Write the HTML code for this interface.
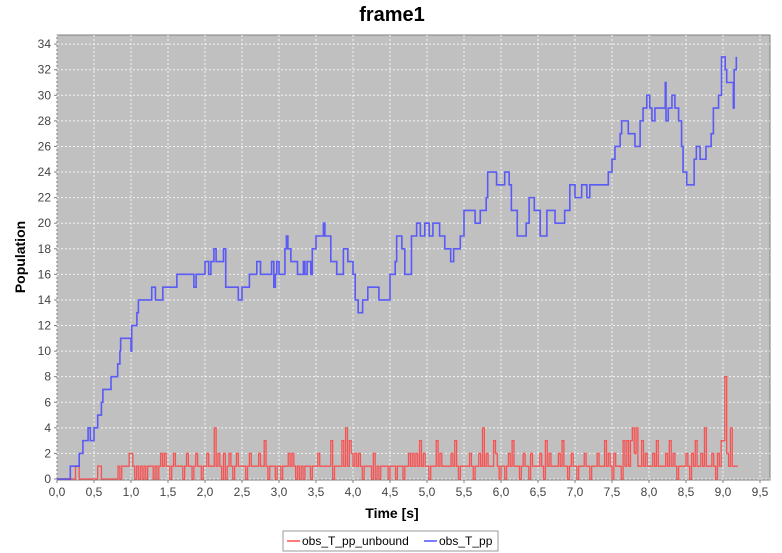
<!DOCTYPE html>
<html><head><meta charset="utf-8"><style>
body{margin:0;background:#fff;font-family:"Liberation Sans",sans-serif;}
svg{display:block}
</style></head><body>
<svg id="chart" width="782" height="553">
<text x="392" y="21" font-size="20" font-weight="bold" text-anchor="middle">frame1</text>
<rect x="57" y="35" width="713" height="445" fill="#c0c0c0" stroke="#808080"/>
<g id="grid"></g>
<g id="axes"></g>
<g id="series"></g>
<text x="392" y="518" font-size="14" font-weight="bold" text-anchor="middle">Time [s]</text>
<text transform="translate(25,257) rotate(-90)" font-size="14" font-weight="bold" text-anchor="middle">Population</text>
<g>
<rect x="283" y="531" width="215" height="20" fill="#fff" stroke="#999"/>
<g><line x1="287" y1="541" x2="300" y2="541" stroke="#ff5050" stroke-width="1.5"/><text x="302" y="545" font-size="12">obs_T_pp_unbound</text></g>
<g><line x1="424" y1="541" x2="437" y2="541" stroke="#5050ff" stroke-width="1.5"/><text x="439" y="545" font-size="12">obs_T_pp</text></g>
</g>
</svg>
<script>
const xTicks=[0,0.5,1,1.5,2,2.5,3,3.5,4,4.5,5,5.5,6,6.5,7,7.5,8,8.5,9,9.5];
const yTicks=[0,2,4,6,8,10,12,14,16,18,20,22,24,26,28,30,32,34];
const blueTimes=[0,0.18,0.3,0.35,0.42,0.45,0.5,0.55,0.6,0.62,0.73,0.82,0.85,0.86,1.0,1.01,1.08,1.1,1.28,1.33,1.43,1.62,1.85,1.88,2.0,2.05,2.08,2.12,2.15,2.25,2.28,2.45,2.5,2.6,2.7,2.75,2.9,2.93,2.95,2.97,3.0,3.08,3.1,3.12,3.16,3.25,3.33,3.35,3.38,3.43,3.45,3.5,3.6,3.62,3.7,3.78,3.87,3.93,4.0,4.03,4.07,4.13,4.2,4.35,4.5,4.57,4.59,4.66,4.70,4.79,4.86,4.91,4.97,5.03,5.08,5.17,5.24,5.32,5.36,5.45,5.50,5.65,5.72,5.80,5.82,5.94,6.05,6.11,6.14,6.22,6.34,6.38,6.45,6.53,6.62,6.73,6.75,6.86,6.93,7.0,7.09,7.16,7.20,7.29,7.45,7.50,7.54,7.61,7.63,7.72,7.81,7.88,7.92,7.97,8.01,8.04,8.08,8.22,8.23,8.26,8.31,8.35,8.40,8.44,8.46,8.51,8.61,8.64,8.69,8.77,8.84,8.87,8.94,8.98,9.03,9.05,9.14,9.15,9.18];
const blueValues=[0,1,2,3,4,3,4,5,6,7,8,9,10,11,10,12,13,14,15,14,15,16,15,16,17,16,17,18,17,18,15,14,15,16,17,16,17,15,16,17,16,18,19,18,17,16,17,16,17,16,18,19,20,19,17,16,18,17,16,14,13,14,15,14,16,17,19,18,16,19,20,19,20,19,20,19,18,17,18,19,21,20,21,22,24,23,24,23,21,19,20,22,21,19,21,20,20,21,23,22,23,22,23,23,24,25,26,27,28,27,26,28,29,30,29,28,29,31,28,29,30,29,28,26,24,23,25,26,25,26,27,29,30,33,32,31,29,32,33];
const redStep=0.025;
const redDigits="0000000000110000000000110000000001011112"+"2101010101110101212110121111012110121101"+"1211141210201210121111012111121131011101"+"1011121210101011101112111111301111314132"+"1212101111020101111011101110112121213121"+"1011131211111213101111121011214121113210"+"1101213111012110211112103121111213110121"+"1011121101112111312102111031313424113121"+"1121311112131210111121021311214111210213"+"38214111";
const redValues=redDigits.split('').map(Number);
const NS='http://www.w3.org/2000/svg';
const L=57,T=35,R=770,B=480;
const X=t=>57+t*74;
const Y=v=>479-v*12.79;
function mk(tag,attrs,parent){const e=document.createElementNS(NS,tag);for(const k in attrs)e.setAttribute(k,attrs[k]);parent.appendChild(e);return e;}
const grid=document.getElementById('grid'),axes=document.getElementById('axes'),series=document.getElementById('series');
xTicks.forEach(t=>{
 const g=mk('line',{x1:X(t),x2:X(t),y1:T,y2:B,stroke:'#fff','stroke-dasharray':'2,2','stroke-width':1,opacity:0.8},grid);
 
 
 mk('line',{x1:X(t),x2:X(t),y1:B,y2:B+3,stroke:'#808080'},axes);
 const tx=mk('text',{x:X(t),y:B+16,'font-size':12,'text-anchor':'middle',fill:'#444'},axes);
 tx.textContent=t.toFixed(1).replace('.',',');
 
 
});
yTicks.forEach(v=>{
 const g=mk('line',{x1:L,x2:R,y1:Y(v),y2:Y(v),stroke:'#fff','stroke-dasharray':'2,2','stroke-width':1,opacity:0.8},grid);
 
 
 mk('line',{x1:L-3,x2:L,y1:Y(v),y2:Y(v),stroke:'#808080'},axes);
 const tx=mk('text',{x:L-6,y:Y(v)+4,'font-size':12,'text-anchor':'end',fill:'#444'},axes);
 tx.textContent=v;
 
 
});
// red series
let d='M'+X(0)+','+Y(redValues[0]);
redValues.forEach((v,i)=>{d+=' V'+Y(v)+' H'+X((i+1)*redStep);});
const rp=mk('path',{d:d,fill:'none',stroke:'#ff4040','stroke-width':1.3,opacity:0.85},series);


// blue series
let db='M'+X(blueTimes[0])+','+Y(blueValues[0]);
for(let i=1;i<blueTimes.length;i++){db+=' H'+X(blueTimes[i])+' V'+Y(blueValues[i]);}
const bp=mk('path',{d:db,fill:'none',stroke:'#4848ff','stroke-width':1.6,opacity:0.85},series);


</script>
</body></html>
